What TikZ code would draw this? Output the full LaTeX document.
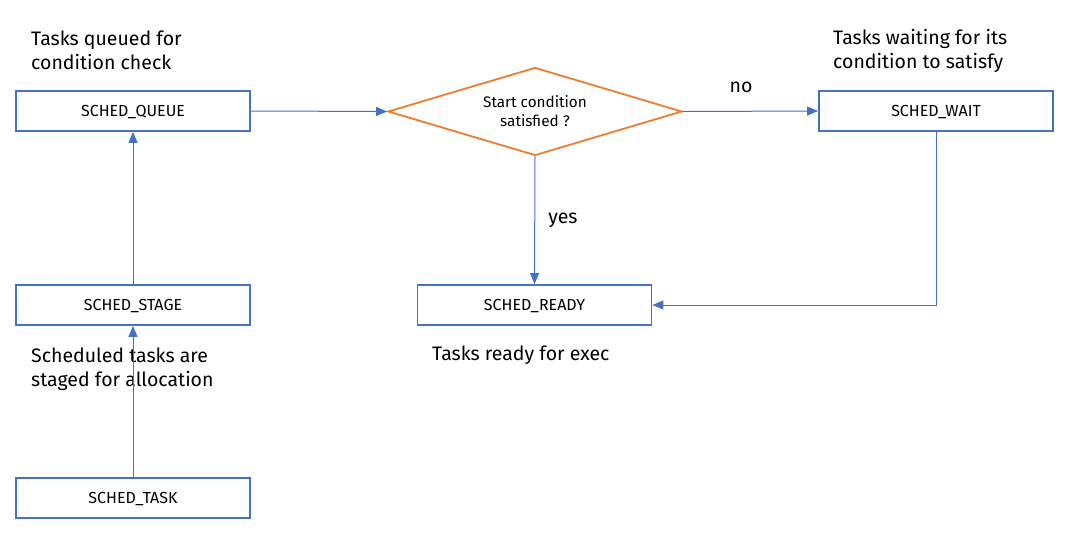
\documentclass[tikz,border=0pt]{standalone}
\usepackage{fontspec}
\setmainfont{Fira Sans}
\usetikzlibrary{arrows.meta,shapes.geometric}
\definecolor{boxblue}{HTML}{4472C4}
\definecolor{condorange}{HTML}{ED7D31}
\begin{document}
\begin{tikzpicture}[x=1pt,y=-1pt,
  statebox/.style={draw=boxblue,line width=1.8pt,fill=white,minimum width=234pt,minimum height=40pt,inner sep=0pt,text height=11pt,text depth=0pt,font=\fontsize{16}{18}\selectfont},
  cond/.style={diamond,draw=condorange,line width=1.8pt,fill=white,minimum width=294pt,minimum height=88pt,inner sep=0pt,aspect=3.34,align=center,text depth=-2pt,font=\fontsize{15.3}{19}\selectfont},
  conn/.style={draw=boxblue,line width=1pt,-{Triangle[length=11pt,width=9pt]}},
  note/.style={anchor=west,align=left,font=\fontsize{19.5}{24}\selectfont,inner sep=0pt},
  edgelab/.style={font=\fontsize{19.5}{22}\selectfont,inner sep=0pt}]
\useasboundingbox (0,0) rectangle (1068,544);
\node[statebox] (queue) at (133,111) {SCHED\_QUEUE};
\node[statebox] (stage) at (133,305) {SCHED\_STAGE};
\node[statebox] (task) at (133,498) {SCHED\_TASK};
\node[statebox] (wait) at (936,111) {SCHED\_WAIT};
\node[statebox] (ready) at (534.5,305) {SCHED\_READY};
\node[cond] (check) at (535,111.5) {Start condition\\satisfied ?};
\node[note] (n1) at (31,50) {Tasks queued for\\condition check};
\node[note] (n2) at (833,50.5) {Tasks waiting for its\\condition to satisfy};
\node[note] (n3) at (432,355) {Tasks ready for exec};
\node[note] (n4) at (31,369) {Scheduled tasks are\\staged for allocation};
\draw[conn] (queue.east) -- (check.west);
\draw[conn] (check.east) -- node[edgelab,above=18pt,pos=0.43] (nolab) {no} (wait.west);
\draw[conn] (check.south) -- node[edgelab,right=13pt,pos=0.5] (yeslab) {yes} (ready.north);
\draw[conn] (wait.south) |- (ready.east);
\draw[conn] (stage.north) -- (queue.south);
\draw[conn] (task.north) -- (stage.south);
\end{tikzpicture}
\end{document}
